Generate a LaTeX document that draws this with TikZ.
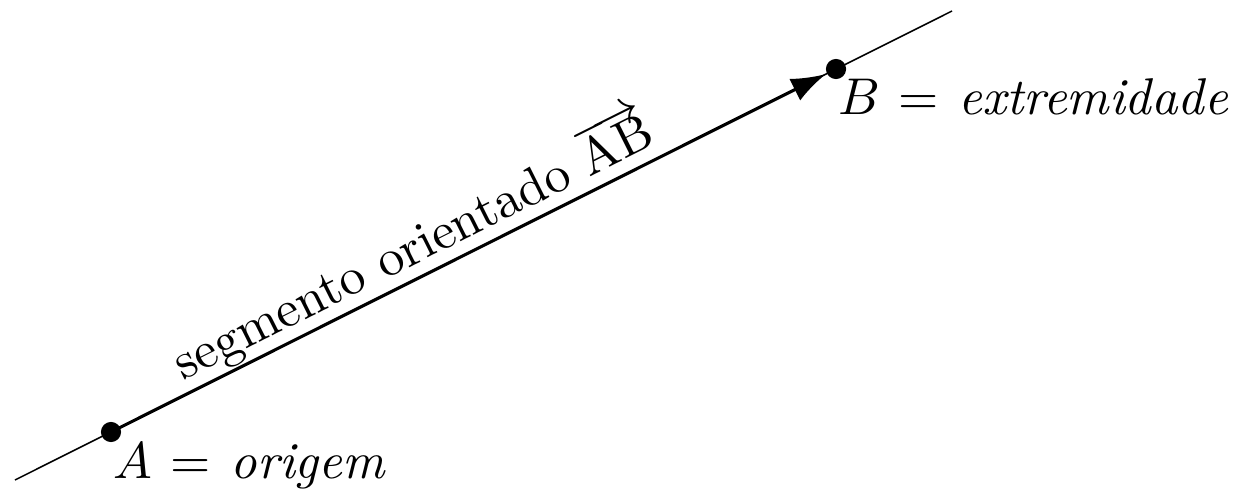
\documentclass[tikz,border=0pt]{standalone}
\usetikzlibrary{calc,arrows.meta}
\begin{document}
\begin{tikzpicture}[x=0.1934pt,y=-0.1934pt,
  thinline/.style={line width=0.3pt},
  vecline/.style={line width=0.6pt,-{Latex[length=6.7pt,width=4.7pt]},shorten >=2.2pt},
  ptdot/.style={fill=black,draw=none,circle,minimum size=3.9pt,inner sep=0pt},
  lbl/.style={anchor=base west,inner sep=0pt}]
\useasboundingbox (0,0) rectangle (1239,489);
\coordinate (L) at (15,480);
\coordinate (R) at (952,11);
\coordinate (A) at (111,432);
\coordinate (B) at (836,69);
\draw[thinline] (L) -- (R);
\draw[vecline] (A) -- (B);
\node[ptdot] (Ad) at (A) {};
\node[ptdot] (Bd) at (B) {};
\node[lbl] (Al) at (112,478) {$A\mkern1.5mu =\mkern2mu\textit{origem}$};
\node[lbl] (Bl) at (837,115) {$B\mkern1.5mu =\mkern2mu\textit{extremidade}$};
\coordinate (M) at ($(A)!0.435!(B)$);
\node[anchor=base,rotate=26.6,inner sep=0pt] (S) at ($(M)!2.6pt!90:(B)$) {segmento orientado $\overrightarrow{\mathrm{AB}}$};
\end{tikzpicture}
\end{document}
